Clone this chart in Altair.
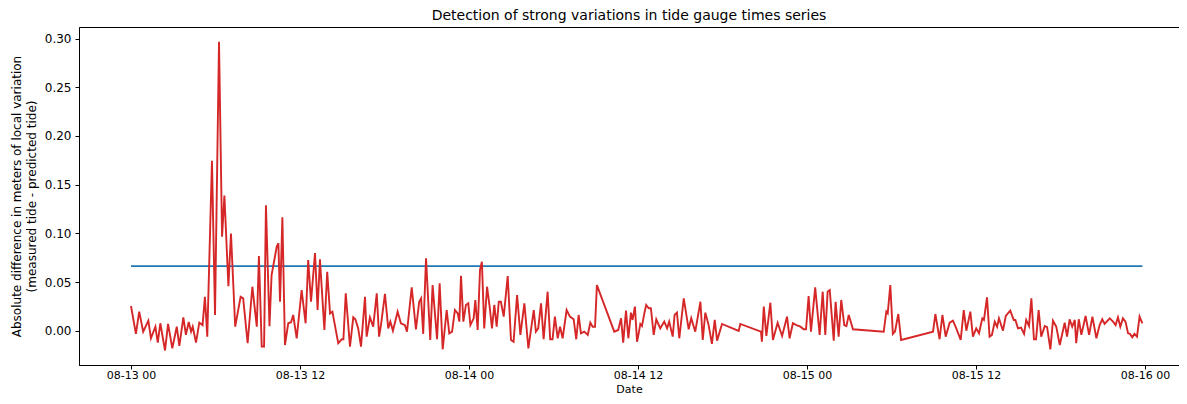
import altair as alt
import pandas as pd

# Minutes after 2021-08-13 00:00 for each sample
minutes = [0, 21, 35, 52, 74, 85, 104, 114, 125, 145, 158, 176, 195, 206, 223, 234, 246, 256, 263, 277,
           291, 305, 315, 325, 345, 358, 375, 388, 398, 415, 426, 444, 467, 478, 497, 517, 536, 545, 557, 567,
           575, 590, 599, 621, 628, 635, 645, 656, 670, 682, 691, 706, 727, 744, 755, 767, 784, 795, 805, 824,
           836, 848, 858, 883, 898, 905, 915, 933, 947, 956, 968, 980, 997, 1004, 1018, 1032, 1047, 1057,
           1065, 1082, 1096, 1105, 1116, 1136, 1150, 1167, 1176, 1196, 1214, 1228, 1236, 1245, 1257, 1275,
           1285, 1304, 1315, 1328, 1345, 1356, 1368, 1380, 1392, 1399, 1406, 1416, 1427, 1437, 1446, 1460,
           1467, 1477, 1487, 1495, 1505, 1517, 1528, 1538, 1548, 1558, 1567, 1576, 1588, 1605, 1619, 1630,
           1645, 1659, 1676, 1693, 1716, 1725, 1735, 1747, 1758, 1775, 1786, 1796, 1806, 1818, 1828, 1839,
           1856, 1870, 1886, 1897, 1907, 1917, 1931, 1946, 1957, 1967, 1977, 1985, 2059, 2076, 2088, 2097,
           2109, 2119, 2130, 2137, 2147, 2156, 2163, 2170, 2177, 2187, 2195, 2206, 2215, 2227, 2238, 2255,
           2272, 2284, 2293, 2308, 2316, 2326, 2336, 2355, 2376, 2387, 2404, 2426, 2436, 2447, 2461, 2475,
           2487, 2497, 2518, 2589, 2596, 2684, 2688, 2696, 2707, 2724, 2735, 2755, 2774, 2795, 2806, 2820,
           2835, 2852, 2866, 2876, 2887, 2897, 2915, 2934, 2947, 2958, 2968, 2977, 2994, 3002, 3015, 3026,
           3039, 3048, 3058, 3076, 3207, 3218, 3224, 3235, 3246, 3255, 3269, 3281, 3417, 3427, 3445, 3457,
           3471, 3488, 3502, 3516, 3535, 3548, 3559, 3576, 3587, 3601, 3613, 3627, 3634, 3647, 3658, 3668,
           3680, 3690, 3698, 3715, 3727, 3746, 3761, 3768, 3779, 3792, 3805, 3814, 3826, 3836, 3847, 3856,
           3867, 3878, 3893, 3903, 3917, 3928, 3942, 3957, 3978, 3988, 3999, 4010, 4021, 4027, 4038, 4049,
           4067, 4082, 4096, 4113, 4127, 4138, 4148, 4170, 4184, 4195, 4205, 4215, 4226, 4237, 4248, 4256,
           4266, 4275, 4286, 4297, 4309]

# Absolute difference (m) for each sample
diffs = [0.0256, -0.003, 0.0198, -0.0007, 0.0106, -0.0075, 0.0044, -0.012, 0.0079, -0.020, 0.0072, -0.0178,
         0.0044, -0.0154, 0.014, -0.004, 0.0092, -0.0007, 0.0044, -0.012, 0.0085, 0.006, 0.035, -0.0058,
         0.1747, 0.0164, 0.2967, 0.0967, 0.1388, 0.046, 0.100, 0.0044, 0.035, 0.0335, -0.0126, 0.0454,
         0.0044, 0.077, -0.016, -0.016, 0.129, 0.005, 0.0574, 0.0865, 0.090, 0.030, 0.1166, -0.0144, 0.0079,
         0.009, 0.0164, -0.0075, 0.042, 0.0079, 0.0728, 0.030, 0.080, 0.0215, 0.0735, 0.001, 0.0608, 0.018,
         0.0198, -0.0126, -0.0085, -0.0085, 0.0386, -0.016, 0.014, 0.012, 0.0027, -0.016, 0.035, -0.0058,
         0.014, 0.0044, 0.0386, -0.0058,
         0.006, 0.038, 0.0027, 0.0096, 0.0003, 0.0198, 0.0079, 0.006, -0.0007, 0.0448, 0.0017, 0.030, 0.0335,
         -0.003, 0.0745, -0.0092, 0.047, -0.0085, 0.049, -0.0188, 0.0215, -0.0024, -0.0007, 0.0215, 0.018,
         0.0096, 0.0567, 0.0096, 0.0267, 0.0284, 0.006, 0.013, 0.0318, 0.001, 0.0626, 0.071, 0.0027, 0.0454,
         0.025, 0.0027, 0.0267, 0.0044, 0.030, 0.030, 0.0147, 0.0564, -0.0092, -0.011, 0.0369, -0.004, 0.0284,
         -0.0178, 0.0215, -0.0007, 0.0027, 0.0284, -0.0085, 0.0403, -0.0085, -0.0085, 0.0147, -0.0075, 0.0044,
         -0.0075, 0.0215, 0.0147, 0.012, -0.0085, 0.0164, -0.0024, -0.0007, -0.004, 0.0085, 0.0044, 0.0044,
         0.047, -0.0007, 0.001, 0.013, -0.012, 0.0208, -0.0075, 0.0188, 0.0113, 0.025, -0.011,
         -0.0024, 0.0072, 0.005, 0.018, 0.0267, 0.0233, 0.0233, -0.004, 0.012, 0.0027, 0.0096, 0.0027, 0.0096,
         -0.0058, 0.0164, 0.0188, -0.0075, 0.0335, 0.0017, 0.013, -0.0007, 0.030, -0.0092, 0.0188, 0.006,
         -0.0133, 0.0113, -0.0099, 0.0072, 0.0, 0.0072, -0.0007, -0.011, 0.025, -0.0051, 0.029, -0.0092,
         0.0085, -0.0051, 0.0147, -0.0075, 0.0079, 0.006, 0.0044, 0.0017, 0.0017, 0.0359, -0.0007, 0.0448,
         -0.004, 0.0403, -0.004, 0.0403, 0.042, -0.0099, 0.030, -0.0058, 0.0318, 0.006, 0.005, 0.0164, 0.0017,
         -0.0007, 0.0198, 0.018, 0.047, -0.003, -0.0007, 0.0174, -0.0092, -0.0007, 0.0174, -0.0085, 0.0164,
         -0.0058, 0.0085, 0.0106, 0.0027, -0.0092, 0.0215, 0.0003, 0.0198, -0.0058, 0.0027, -0.0024, 0.013,
         0.0113, 0.0345, -0.0058, -0.004, 0.0096, 0.0044, 0.013, 0.0003, 0.0154, 0.0208, 0.0113, 0.0113,
         0.0027, 0.0035, -0.003, 0.0113, 0.0051, 0.0335, -0.0085, -0.0085, 0.0215, -0.0058, 0.0051, 0.004,
         -0.0188, 0.0106, 0.0044, -0.0144, 0.0085, -0.0058, 0.012, 0.0044, 0.0113, -0.0126, 0.012, -0.004,
         0.0154, -0.004, 0.0147, -0.0075, 0.006, 0.012, 0.0072, 0.013, 0.0096, 0.006, 0.014, 0.0044, 0.013,
         0.0096, -0.0024, -0.003, -0.0065, -0.003, -0.0058, 0.0147, 0.0079]

threshold = 0.0665
tick_hours = [0, 12, 24, 36, 48, 60, 72]
y_ticks = [0.0, 0.05, 0.10, 0.15, 0.20, 0.25, 0.30]

base = pd.Timestamp("2021-08-13 00:00:00")
df = pd.DataFrame({
    "Date": base + pd.to_timedelta(minutes, unit="m"),
    "value": diffs,
})
df_thr = pd.DataFrame({
    "Date": [base + pd.Timedelta(minutes=minutes[0]), base + pd.Timedelta(minutes=minutes[-1])],
    "value": [threshold, threshold],
})

x_ticks = [alt.DateTime(year=2021, month=8, date=13 + h // 24, hours=h % 24) for h in tick_hours]
x_domain = [alt.DateTime(year=2021, month=8, date=12, hours=20, minutes=18, seconds=30),
            alt.DateTime(year=2021, month=8, date=16, hours=2, minutes=25, seconds=0)]

FONT = "DejaVu Sans"

x_enc = alt.X("Date:T", title="Date",
              scale=alt.Scale(domain=x_domain, nice=False),
              axis=alt.Axis(values=x_ticks, format="%m-%d %H", labelFlush=False,
                            labelFontSize=11, titleFontSize=11, labelPadding=0,
                            titleY=27.5, titleBaseline="alphabetic"))
y_enc = alt.Y("value:Q",
              title=["Absolute difference in meters of local variation", "(measured tide - predicted tide)"],
              scale=alt.Scale(domain=[-0.0349, 0.3118], nice=False, zero=False),
              axis=alt.Axis(values=y_ticks, format=".2f", titlePadding=6, titleLineHeight=15,
                            labelPadding=4))

red = alt.Chart(df).mark_line(color="#d62728", strokeWidth=1.9, clip=True).encode(x=x_enc, y=y_enc)
blue = alt.Chart(df_thr).mark_line(color="#1f77b4", strokeWidth=1.9, clip=True).encode(x=x_enc, y=y_enc)

chart = alt.layer(blue, red).properties(
    width=1100, height=338,
    title=alt.TitleParams("Detection of strong variations in tide gauge times series",
                          font=FONT, fontSize=14, fontWeight="normal", color="black",
                          anchor="middle", offset=4),
    padding={"left": 71, "top": 19, "right": 0, "bottom": 31},
    autosize=alt.AutoSizeParams(type="none"),
).configure_view(
    stroke="black", strokeWidth=1
).configure_axis(
    labelFont=FONT, titleFont=FONT, labelFontSize=12, titleFontSize=12,
    labelColor="black", titleColor="black", titleFontWeight="normal",
    domainColor="black", tickColor="black", tickSize=4, grid=False,
    domainWidth=1, tickWidth=1
)

chart.save("out.html", embed_options={"renderer": "svg", "actions": False})
